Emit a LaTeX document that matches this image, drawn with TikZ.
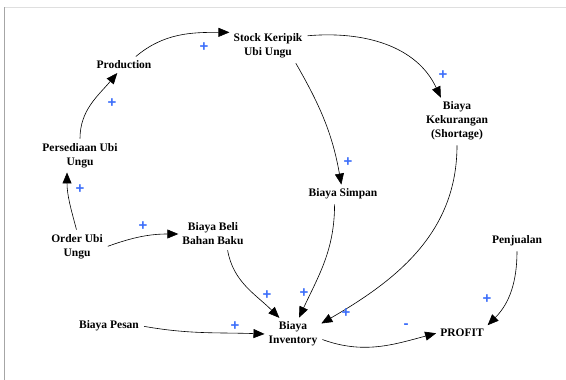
\documentclass[tikz,border=0pt]{standalone}
\usepackage{fontspec}
\setmainfont{Liberation Serif}
\newfontfamily\signfont{Liberation Sans}
\usepackage{tikz}
\usetikzlibrary{arrows.meta}
\definecolor{segnoblu}{RGB}{60,110,250}
\tikzset{
>={Triangle[length=11pt,width=9pt]},
var node/.style={align=center,inner sep=3pt,font=\bfseries\fontsize{11.5}{14}\selectfont},
segno/.style={text=segnoblu,inner sep=0pt,font=\signfont\bfseries\fontsize{15}{15}\selectfont},
freccia/.style={->,shorten >=1pt,shorten <=2pt,line width=0.6pt}}

\begin{document}
\begin{tikzpicture}[x=1pt,y=1pt]

\useasboundingbox (0,0) rectangle (566,-380);
\draw[gray!25,line width=1pt] (4,-7.5) -- (566,-7.5);
\draw[gray!70,line width=1.5pt] (4.5,-7) -- (4.5,-380);

\node[var node] (1) at (80,-156) {Persediaan Ubi\\Ungu};
\node[var node] (2) at (124,-65) {Production};
\node[var node] (3) at (268,-46) {Stock Keripik\\Ubi Ungu};
\node[var node] (4) at (343,-194) {Biaya Simpan};
\node[var node] (5) at (457,-121) {Biaya\\Kekurangan\\(Shortage)};
\node[var node] (6) at (77,-247) {Order Ubi\\Ungu};
\node[var node] (7) at (213,-234) {Biaya Beli\\Bahan Baku};
\node[var node] (8) at (293,-334) {Biaya\\Inventory};
\node[var node] (9) at (462,-333) {PROFIT};
\node[var node] (10) at (517,-241) {Penjualan};
\node[var node] (11) at (109,-326) {Biaya Pesan};

\path[freccia] (1.north) edge[out=90,in=-130] (2.-130);
\path[freccia] (2.35) edge[out=40,in=180] (3.160);
\path[freccia] (3.15) edge[out=5,in=115] (5.125);
\path[freccia] (3.-30) edge[out=-60,in=100] (4.100);
\path[freccia] (6.north) edge[out=105,in=-90] (1.-130);
\path[freccia] (6.east) edge[out=20,in=180] (7.west);
\path[freccia] (7.-45) edge[out=-80,in=135] (8.130);
\path[freccia] (11.east) edge[out=-10,in=178] (8.west);
\path[freccia] (4.-135) edge[out=-90,in=65] (8.70);
\path[freccia] (5.south) edge[out=-90,in=30] (8.20);
\path[freccia] (8.-10) edge[out=-20,in=195] (9.west);
\path[freccia] (10.south) edge[out=-90,in=45] (9.north east);

\node[segno] (s1) at (112,-103) {+};
\node[segno] (s2) at (204,-47) {+};
\node[segno] (s3) at (443,-75) {+};
\node[segno] (s4) at (348,-162) {+};
\node[segno] (s5) at (80,-189) {+};
\node[segno] (s6) at (143,-226) {+};
\node[segno] (s7) at (267,-295) {+};
\node[segno] (s8) at (235,-326) {+};
\node[segno] (s9) at (304,-293) {+};
\node[segno] (s10) at (346,-313) {+};
\node[segno] (s11) at (406,-326) {-};
\node[segno] (s12) at (487,-299) {+};

\end{tikzpicture}
\end{document}
